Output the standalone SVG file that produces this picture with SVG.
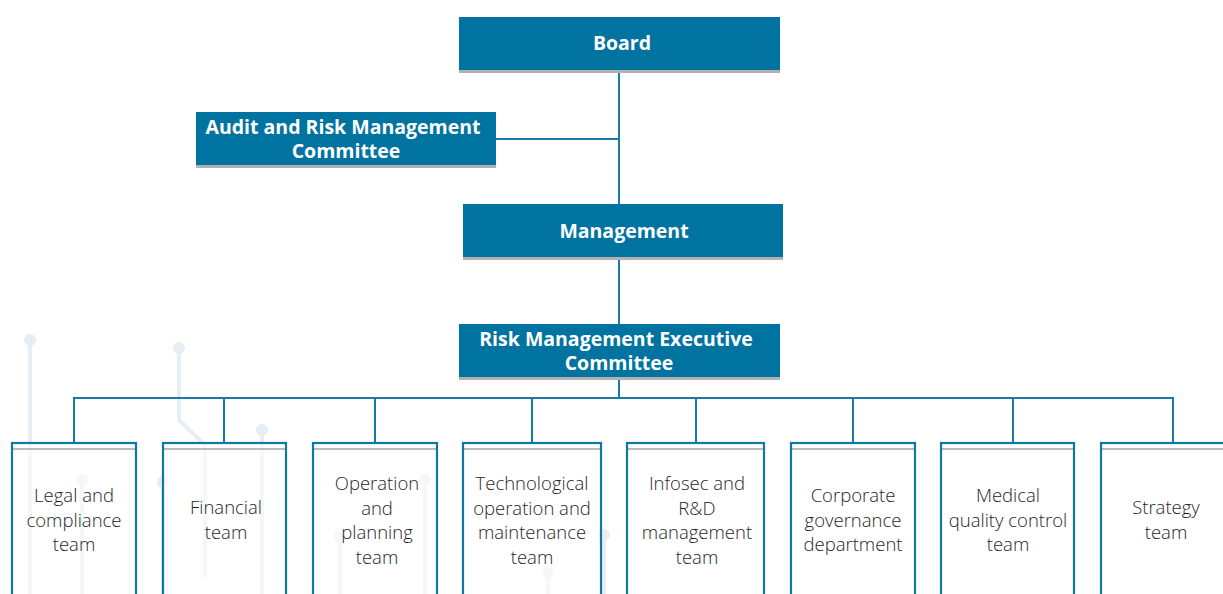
<svg xmlns="http://www.w3.org/2000/svg" width="1223" height="594" viewBox="0 0 1223 594">
<style>
.hdr{fill:#0073a0}
.shadow{fill:#b1b1b4}
.ht{font-family:"Open Sans","DejaVu Sans",sans-serif;font-weight:bold;font-size:19.5px;fill:#ffffff;text-anchor:middle}
.team{fill:#ffffff;fill-opacity:0.6;stroke:#0f78a3;stroke-width:2.2}
.inner{stroke:#777;stroke-width:1}
.tt{font-family:"Open Sans","DejaVu Sans",sans-serif;font-weight:300;font-size:18.5px;fill:#1f1f1f;text-anchor:middle}
.con{fill:none;stroke:#1a7aa6;stroke-width:2}
.deco{fill:none;stroke:#e6edf3;stroke-width:4}
.dot{fill:#e6edf3}
</style>
<rect width="1223" height="594" fill="#ffffff"/>
<g id="decoration">
<path class="deco" d="M30 340 V594"/><circle class="dot" cx="30" cy="340" r="6"/>
<path class="deco" d="M179 348 V420 L205 445 V578"/><circle class="dot" cx="179" cy="348" r="6"/>
<path class="deco" d="M262 430 V594"/><circle class="dot" cx="262" cy="430" r="6"/>
<path class="deco" d="M82 480 V594"/><circle class="dot" cx="82" cy="480" r="6"/>
<path class="deco" d="M163 482 V594"/><circle class="dot" cx="163" cy="482" r="6"/>
<path class="deco" d="M425 480 V594"/><circle class="dot" cx="425" cy="480" r="6"/>
<path class="deco" d="M340 536 V594"/><circle class="dot" cx="340" cy="536" r="6"/>
<path class="deco" d="M548 572 V594"/><circle class="dot" cx="548" cy="572" r="6"/>
<path class="deco" d="M604 535 V594"/><circle class="dot" cx="604" cy="535" r="6"/>
</g>
<g id="connectors">
<path class="con" d="M619 73 V204"/>
<path class="con" d="M496 139 H619"/>
<path class="con" d="M619 260 V324"/>
<path class="con" d="M619 380 V398"/>
<path class="con" d="M74 443 V398 H1173 V443"/>
<path class="con" d="M224 398 V443 M375 398 V443 M532 398 V443 M696 398 V443 M853 398 V443 M1013 398 V443"/>
</g>
<g id="board">
<rect class="shadow" x="459" y="67" width="321" height="6"/>
<rect class="hdr" x="459" y="17" width="321" height="53"/>
<text class="ht" x="622" y="50">Board</text>
</g>
<g id="audit">
<rect class="shadow" x="196" y="162" width="300" height="6"/>
<rect class="hdr" x="196" y="112" width="300" height="53"/>
<text class="ht"><tspan x="343" y="134">Audit and Risk Management</tspan><tspan x="346" y="158">Committee</tspan></text>
</g>
<g id="management">
<rect class="shadow" x="463" y="254" width="320" height="6"/>
<rect class="hdr" x="463" y="204" width="320" height="53"/>
<text class="ht" x="624" y="238">Management</text>
</g>
<g id="rmec">
<rect class="shadow" x="459" y="374" width="321" height="6"/>
<rect class="hdr" x="459" y="324" width="321" height="53"/>
<text class="ht"><tspan x="616" y="346">Risk Management Executive</tspan><tspan x="619" y="370">Committee</tspan></text>
</g>
<g id="legal">
<rect class="team" x="12" y="443" width="124" height="160"/>
<path class="inner" d="M13 449 H135"/>
<text class="tt"><tspan x="74" y="502">Legal and</tspan><tspan x="74" y="526.5">compliance</tspan><tspan x="74" y="551">team</tspan></text>
</g>
<g id="financial">
<rect class="team" x="163" y="443" width="123" height="160"/>
<path class="inner" d="M164 449 H285"/>
<text class="tt"><tspan x="226" y="514">Financial</tspan><tspan x="226" y="538.5">team</tspan></text>
</g>
<g id="operation">
<rect class="team" x="313" y="443" width="124" height="160"/>
<path class="inner" d="M314 449 H436"/>
<text class="tt"><tspan x="377" y="490">Operation</tspan><tspan x="377" y="514.5">and</tspan><tspan x="377" y="539">planning</tspan><tspan x="377" y="563.5">team</tspan></text>
</g>
<g id="technological">
<rect class="team" x="463" y="443" width="138" height="160"/>
<path class="inner" d="M464 449 H600"/>
<text class="tt"><tspan x="532" y="490">Technological</tspan><tspan x="532" y="514.5">operation and</tspan><tspan x="532" y="539">maintenance</tspan><tspan x="532" y="563.5">team</tspan></text>
</g>
<g id="infosec">
<rect class="team" x="627" y="443" width="137" height="160"/>
<path class="inner" d="M628 449 H763"/>
<text class="tt"><tspan x="697" y="490">Infosec and</tspan><tspan x="697" y="514.5">R&amp;D</tspan><tspan x="697" y="539">management</tspan><tspan x="697" y="563.5">team</tspan></text>
</g>
<g id="corporate">
<rect class="team" x="791" y="443" width="124" height="160"/>
<path class="inner" d="M792 449 H914"/>
<text class="tt"><tspan x="853" y="502">Corporate</tspan><tspan x="853" y="526.5">governance</tspan><tspan x="853" y="551">department</tspan></text>
</g>
<g id="medical">
<rect class="team" x="941" y="443" width="133" height="160"/>
<path class="inner" d="M942 449 H1073"/>
<text class="tt"><tspan x="1008" y="502">Medical</tspan><tspan x="1008" y="526.5">quality control</tspan><tspan x="1008" y="551">team</tspan></text>
</g>
<g id="strategy">
<rect class="team" x="1101" y="443" width="140" height="160"/>
<path class="inner" d="M1102 449 H1223"/>
<text class="tt"><tspan x="1166" y="514">Strategy</tspan><tspan x="1166" y="538.5">team</tspan></text>
</g>
</svg>
